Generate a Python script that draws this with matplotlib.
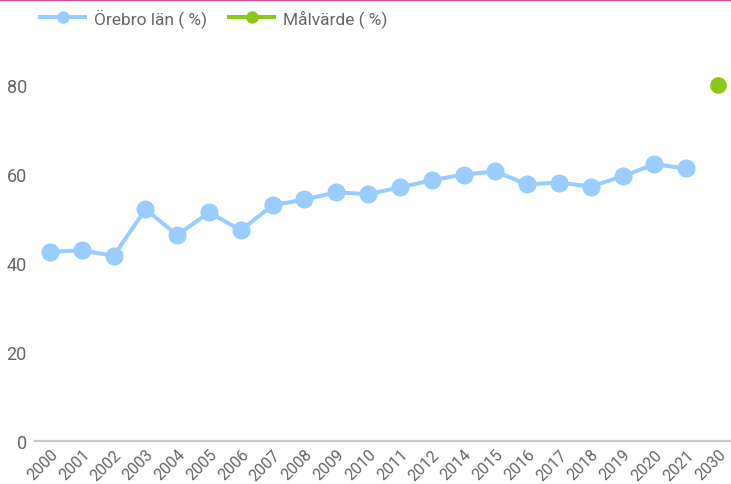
import matplotlib.pyplot as plt
from matplotlib.lines import Line2D

plt.rcParams["font.family"] = ["Roboto", "DejaVu Sans"]

years = ["2000", "2001", "2002", "2003", "2004", "2005", "2006", "2007",
         "2008", "2009", "2010", "2011", "2012", "2014", "2015", "2016",
         "2017", "2018", "2019", "2020", "2021", "2030"]
orebro = [42.4, 42.8, 41.5, 52.0, 46.2, 51.3, 47.3, 52.9, 54.2, 55.8, 55.4,
          56.9, 58.5, 59.8, 60.5, 57.6, 58.0, 57.1, 59.4, 62.1, 61.2]
target_year = "2030"
target_value = 80
yticks = [0, 20, 40, 60, 80]

blue = "#99ccff"
green = "#8cc814"
grey = "#666666"

fig = plt.figure(figsize=(7.31, 4.85), dpi=100)
ax = fig.add_axes([0.048, 0.089, 0.952, 0.875])

x = list(range(len(years)))
ax.plot(x[:len(orebro)], orebro, color=blue, lw=2.9, marker="o", ms=12,
        solid_capstyle="round")
ax.plot(years.index(target_year), target_value, "o", color=green, ms=11)

ax.set_xlim(-0.47, len(years) - 1 + 0.41)
ax.set_ylim(0, 95.3)
ax.set_xticks(x)
ax.set_xticklabels(years, rotation=45, ha="right", rotation_mode="anchor",
                   fontsize=11.5, color=grey)
ax.set_yticks(yticks)
ax.set_yticklabels([str(v) for v in yticks], fontsize=13, color=grey)
ax.tick_params(axis="both", length=0)
ax.tick_params(axis="x", pad=4)
ax.tick_params(axis="y", pad=6)

for side in ["top", "right", "left"]:
    ax.spines[side].set_visible(False)
ax.spines["bottom"].set_color("#c8c8c8")
ax.spines["bottom"].set_linewidth(1.6)

handles = [
    Line2D([], [], color=blue, lw=2.9, marker="o", ms=8),
    Line2D([], [], color=green, lw=2.9, marker="o", ms=8),
]
fig.legend(handles, ["Örebro län ( %)", "Målvärde ( %)"], loc="upper left",
           bbox_to_anchor=(0.038, 1.006), ncol=2, frameon=False, fontsize=12.5,
           labelcolor=grey, handlelength=2.6, columnspacing=1.3,
           handletextpad=0.5, borderaxespad=0.3)

# accent stripe along the top edge
fig.add_artist(Line2D([0, 1], [0.998, 0.998], transform=fig.transFigure,
                      color="#d04a8c", lw=1.6))

fig.savefig("out.png", dpi=100)
